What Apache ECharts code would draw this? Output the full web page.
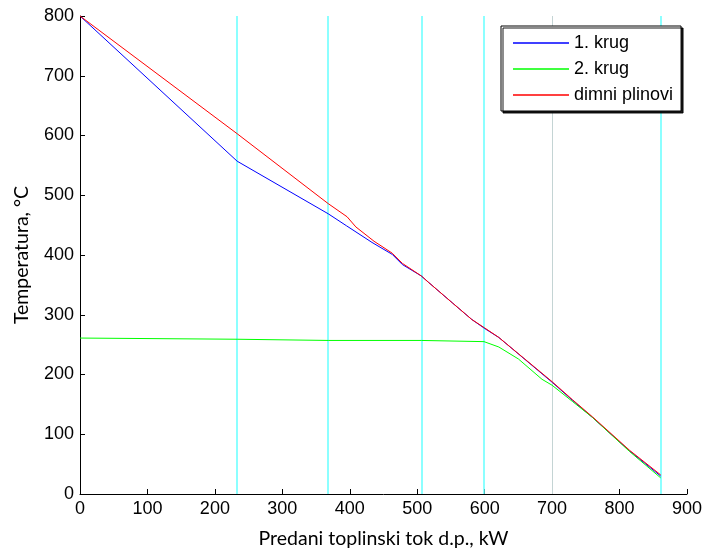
<!DOCTYPE html>
<html>
<head>
<meta charset="utf-8">
<script src="https://cdn.jsdelivr.net/npm/echarts@6/dist/echarts.min.js"></script>
<style>
html,body{margin:0;padding:0;background:#fff;}
#chart{width:705px;height:554px;}
</style>
</head>
<body>
<div id="chart"></div>
<script>
// Data (heat flow Q in kW, temperature T in °C)
const seriesNames = ['1. krug', '2. krug', 'dimni plinovi'];
const qBlue = [0, 233, 368, 395, 433, 463, 478, 506, 517, 552, 581, 600, 621, 700, 730, 760, 815, 861];
const tBlue = [800, 557, 469, 449, 421, 401, 384, 365, 354, 320, 292, 277, 262, 187, 157, 128, 72, 30];
const qGreen = [0, 233, 368, 506, 599, 621, 650, 685, 700, 730, 760, 815, 861];
const tGreen = [261, 259, 257, 257, 255, 246, 226, 192, 182, 155, 128, 71, 27];
const qRed = [0, 233, 368, 396, 409, 436, 463, 478, 506, 517, 552, 581, 600, 621, 700, 730, 760, 815, 861];
const tRed = [800, 603, 486, 464, 447, 423, 403, 386, 365, 354, 320, 292, 278, 262, 188, 158, 129, 73, 32];
const cyanLines = [233, 368, 506, 599, 861];
const greyLines = [700];
const xTicks = [0, 900, 100];
const yTicks = [0, 800, 100];

function pairs(q, t) { return q.map((v, i) => [v, t[i]]); }

const chart = echarts.init(document.getElementById('chart'), null, {renderer: 'canvas'});
const axisFont = 'Liberation Sans, Arial, sans-serif';
const titleFont = 'Lato, Carlito, Calibri, sans-serif';

const vlines = cyanLines.map(v => ({xAxis: v, lineStyle: {color: '#66ffff', width: 1.5, type: 'solid'}}))
  .concat(greyLines.map(v => ({xAxis: v, lineStyle: {color: '#c4d4d4', width: 1, type: 'solid'}})));

chart.setOption({
  animation: false,
  backgroundColor: '#ffffff',
  grid: {left: 80, right: 16, top: 16, bottom: 59, containLabel: false},
  legend: {
    data: seriesNames,
    orient: 'vertical',
    left: 501,
    top: 26,
    backgroundColor: '#ffffff',
    borderColor: '#000000',
    borderWidth: 1,
    shadowColor: 'rgba(0,0,0,0.9)',
    shadowOffsetX: 2,
    shadowOffsetY: 2,
    shadowBlur: 0,
    padding: [8, 8, 7, 12],
    itemGap: 8,
    itemWidth: 56,
    itemHeight: 1.5,
    icon: 'rect',
    textStyle: {fontFamily: axisFont, fontSize: 18, color: '#000', lineHeight: 18},
    selectedMode: false
  },
  xAxis: {
    type: 'value',
    min: xTicks[0], max: xTicks[1], interval: xTicks[2],
    name: 'Predani toplinski tok d.p., kW',
    nameLocation: 'middle',
    nameGap: 35,
    nameTextStyle: {fontFamily: titleFont, fontSize: 19.5, color: '#000'},
    axisLine: {onZero: false, lineStyle: {color: '#000', width: 1}},
    axisTick: {inside: true, length: 5, lineStyle: {color: '#000'}},
    axisLabel: {fontFamily: axisFont, fontSize: 18, color: '#000', margin: 6},
    splitLine: {show: false}
  },
  yAxis: {
    type: 'value',
    min: yTicks[0], max: yTicks[1], interval: yTicks[2],
    name: 'Temperatura, °C',
    nameLocation: 'middle',
    nameGap: 48,
    nameTextStyle: {fontFamily: titleFont, fontSize: 19.5, color: '#000'},
    axisLine: {show: true, onZero: false, lineStyle: {color: '#000', width: 1}},
    axisTick: {show: true, inside: true, length: 5, lineStyle: {color: '#000'}},
    axisLabel: {fontFamily: axisFont, fontSize: 18, color: '#000', margin: 6},
    splitLine: {show: false}
  },
  series: [
    {
      name: seriesNames[0], type: 'line', data: pairs(qBlue, tBlue),
      symbol: 'none', lineStyle: {color: '#0000ff', width: 1}, itemStyle: {color: '#0000ff'}, z: 3,
      markLine: {silent: true, symbol: 'none', label: {show: false}, data: vlines, z: 1}
    },
    {
      name: seriesNames[1], type: 'line', data: pairs(qGreen, tGreen),
      symbol: 'none', lineStyle: {color: '#00ff00', width: 1}, itemStyle: {color: '#00ff00'}, z: 4
    },
    {
      name: seriesNames[2], type: 'line', data: pairs(qRed, tRed),
      symbol: 'none', lineStyle: {color: '#ff0000', width: 1}, itemStyle: {color: '#ff0000'}, z: 5
    }
  ]
});
</script>
</body>
</html>
